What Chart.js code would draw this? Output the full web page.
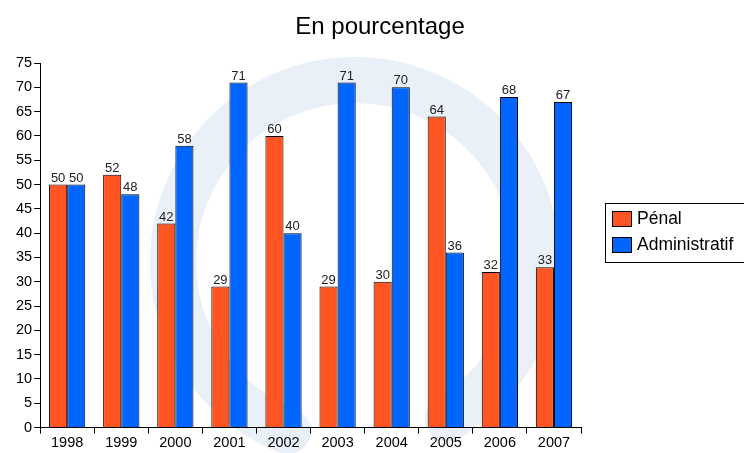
<!DOCTYPE html>
<html>
<head>
<meta charset="utf-8">
<script src="https://cdn.jsdelivr.net/npm/chart.js@4"></script>
<style>
  body { margin: 0; background: #fff; }
  #wrap { position: relative; width: 744px; height: 453px; }
</style>
</head>
<body>
<div id="wrap"><canvas id="chart1" width="744" height="453"></canvas></div>
<script>
const years = ['1998', '1999', '2000', '2001', '2002', '2003', '2004', '2005', '2006', '2007'];
const penal = [50, 52, 42, 29, 60, 29, 30, 64, 32, 33];
const administratif = [50, 48, 58, 71, 40, 71, 70, 36, 68, 67];
const seriesNames = ['Pénal', 'Administratif'];
const colors = ['rgb(255, 85, 34)', 'rgb(0, 102, 255)'];
const chartTitle = 'En pourcentage';

const FONT = '"Liberation Sans", Arial, sans-serif';

// faint swirl behind everything + title over the whole width
const backdrop = {
    id: 'backdrop',
    beforeDraw(chart) {
        const ctx = chart.ctx;
        ctx.save();
        ctx.strokeStyle = 'rgb(233, 240, 247)';
        ctx.lineCap = 'round';
        ctx.lineWidth = 46;
        ctx.beginPath();
        ctx.arc(355, 262, 182, Math.PI * 0.62, Math.PI * 2.33);
        ctx.stroke();
        ctx.restore();
    },
    afterDraw(chart) {
        const ctx = chart.ctx;
        ctx.save();
        ctx.font = '24px ' + FONT;
        ctx.fillStyle = '#000';
        ctx.textAlign = 'center';
        ctx.textBaseline = 'middle';
        ctx.fillText(chartTitle, 380, 27);
        ctx.restore();
    }
};

const valueLabels = {
    id: 'valueLabels',
    afterDatasetsDraw(chart) {
        const ctx = chart.ctx;
        ctx.save();
        ctx.font = '13px ' + FONT;
        ctx.fillStyle = '#222';
        ctx.textAlign = 'center';
        ctx.textBaseline = 'bottom';
        chart.data.datasets.forEach((ds, i) => {
            chart.getDatasetMeta(i).data.forEach((bar, j) => {
                ctx.fillText(ds.data[j], bar.x, bar.y);
            });
        });
        ctx.restore();
    }
};

// legend drawn in its own box on the right
const sideLegend = {
    id: 'sideLegend',
    afterDraw(chart) {
        const ctx = chart.ctx;
        const x = 605, y = 203;
        ctx.save();
        ctx.strokeStyle = '#000';
        ctx.lineWidth = 1;
        ctx.strokeRect(x + 0.5, y + 0.5, 150, 59);
        ctx.font = '17.5px ' + FONT;
        ctx.textBaseline = 'middle';
        chart.data.datasets.forEach((ds, i) => {
            const sy = y + 8 + i * 26;
            ctx.fillStyle = ds.backgroundColor;
            ctx.fillRect(x + 7, sy, 20, 16);
            ctx.strokeRect(x + 7.5, sy + 0.5, 19, 15);
            ctx.fillStyle = '#000';
            ctx.fillText(ds.label, x + 32, sy + 8);
        });
        ctx.restore();
    }
};

(function() {
    const chart = document.getElementById('chart1');

    const data = {
        labels: years,
        datasets: [
            { label: seriesNames[0], data: penal, backgroundColor: colors[0], borderColor: '#000', borderWidth: 1 },
            { label: seriesNames[1], data: administratif, backgroundColor: colors[1], borderColor: '#000', borderWidth: 1 }
        ]
    };

    const config = {
        type: 'bar',
        data: data,
        options: {
            responsive: false,
            animation: false,
            layout: { padding: { left: 14, right: 163, top: 63, bottom: 0 } },
            datasets: { bar: { categoryPercentage: 0.67, barPercentage: 1 } },
            plugins: {
                title: { display: false },
                legend: { display: false },
                tooltip: { enabled: false }
            },
            scales: {
                x: {
                    grid: { display: true, drawOnChartArea: false, color: '#000', tickLength: 6 },
                    border: { color: '#000' },
                    ticks: { color: '#000', font: { family: FONT, size: 14.5 }, padding: 1 }
                },
                y: {
                    min: 0,
                    max: 75,
                    grid: { display: true, drawOnChartArea: false, color: '#000', tickLength: 6 },
                    border: { color: '#000' },
                    ticks: { stepSize: 5, color: '#000', font: { family: FONT, size: 14.5 }, padding: 2 }
                }
            }
        },
        plugins: [backdrop, valueLabels, sideLegend]
    };

    new Chart(chart, config);
})();
</script>
</body>
</html>
